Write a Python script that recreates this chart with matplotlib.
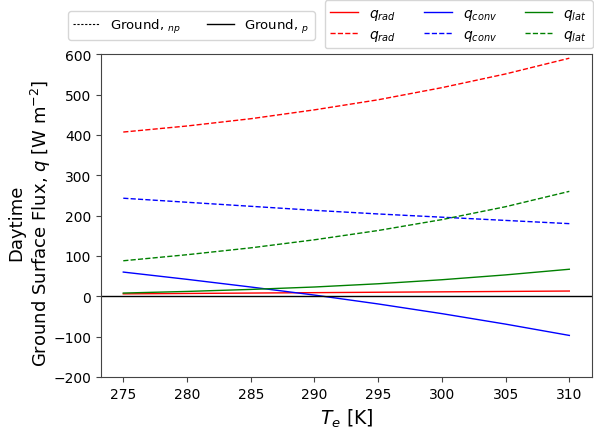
import matplotlib
matplotlib.use('Agg')
import matplotlib.pyplot as plt
from matplotlib.lines import Line2D

# ambient temperature [K]
T_e = [275, 280, 285, 290, 295, 300, 305, 310]

# ground fluxes, passive (p)
q_rad_p = [6, 7, 8, 9, 10, 11, 12, 13]
q_conv_p = [60, 42, 23, 3, -19, -43, -69, -97]
q_lat_p = [8, 12, 17, 23, 31, 41, 53, 67]

# ground fluxes, non-passive (np)
q_rad_np = [407, 422, 440, 462, 487, 517, 551, 590]
q_conv_np = [243, 233, 223, 213, 204, 196, 188, 180]
q_lat_np = [88, 103, 120, 140, 163, 190, 222, 260]

fig = plt.figure(figsize=(5.94, 4.31), dpi=100)
ax = fig.add_axes([0.170, 0.123, 0.826, 0.749])

l1, = ax.plot(T_e, q_rad_p, color='r', lw=1, label='$q_{rad}$')
l2, = ax.plot(T_e, q_rad_np, color='r', lw=1, ls='--', label='$q_{rad}$')
l3, = ax.plot(T_e, q_conv_p, color='b', lw=1, label='$q_{conv}$')
l4, = ax.plot(T_e, q_conv_np, color='b', lw=1, ls='--', label='$q_{conv}$')
l5, = ax.plot(T_e, q_lat_p, color='g', lw=1, label='$q_{lat}$')
l6, = ax.plot(T_e, q_lat_np, color='g', lw=1, ls='--', label='$q_{lat}$')
ax.axhline(0, color='k', lw=1)

for s in ax.spines.values():
    s.set_color('#444444')

ax.set_ylim(-200, 600)
ax.set_xticks([275, 280, 285, 290, 295, 300, 305, 310])
ax.tick_params(labelsize=10, color='#444444')
ax.set_xlabel('$T_e$ [K]', fontsize=13.5)
ax.set_ylabel('Daytime\nGround Surface Flux, $q$ [W m$^{-2}$]', fontsize=13)
ax.yaxis.set_label_coords(-0.097, 0.48)

# line style key
style_handles = [Line2D([], [], color='k', lw=0.8, ls=(0, (2, 1.5))),
                 Line2D([], [], color='k', lw=1)]
fig.legend(style_handles, ['Ground, $_{np}$', 'Ground, $_{p}$'], ncol=2,
           loc='center', bbox_to_anchor=(0.322, 0.9385), fontsize=9.5)

fig.legend([l1, l2, l3, l4, l5, l6], [h.get_label() for h in [l1, l2, l3, l4, l5, l6]],
           ncol=3, loc='center', bbox_to_anchor=(0.772, 0.941), fontsize=10,
           labelspacing=0.35)

plt.savefig('out.png', dpi=100)
